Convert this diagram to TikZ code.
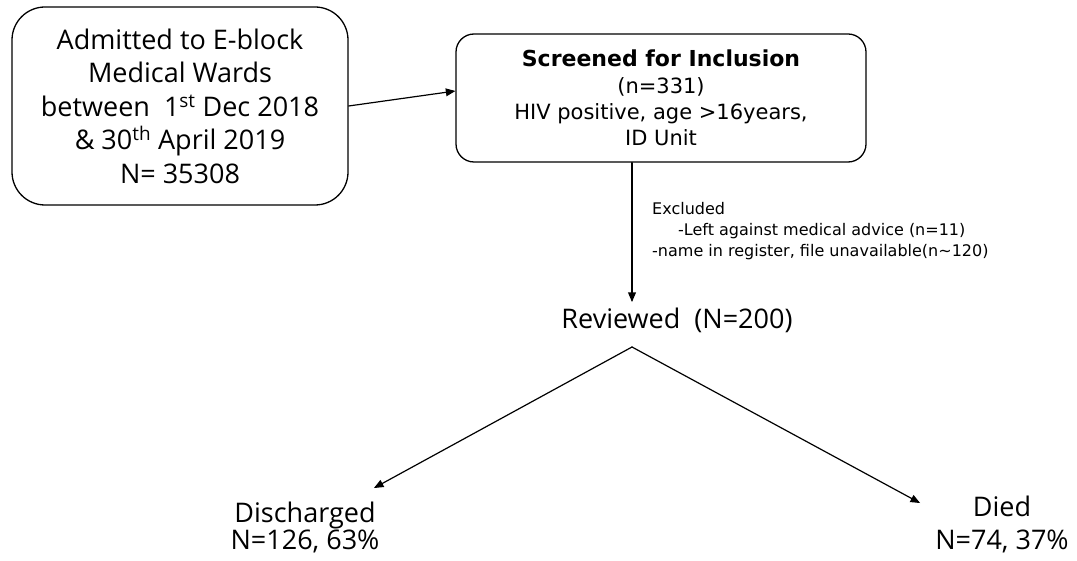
\documentclass[tikz,border=0pt]{standalone}
\usepackage{fontspec}
\setmainfont{Open Sans}
\newfontfamily\boxfont{DejaVu Sans}
\usetikzlibrary{arrows}

\tikzset{
  flowbox/.style={draw, line width=1.3pt, rounded corners=#1, align=center, inner sep=0pt},
  bigtext/.style={font=\fontsize{27}{33}\selectfont, align=center},
  smalltext/.style={font=\boxfont\fontsize{16}{21}\selectfont, align=left},
}

\begin{document}
\begin{tikzpicture}[line cap=round,line join=round,>=triangle 45,x=1pt,y=-1pt]
\useasboundingbox (0,0) rectangle (1077,561);
\node[flowbox=33pt, bigtext, font=\fontsize{27}{33.5}\selectfont, minimum width=336pt, minimum height=198pt] (admit) at (180,106)
  {Admitted to E-block\\ Medical Wards\\ between \ 1\textsuperscript{st} Dec 2018\\ \& 30\textsuperscript{th} April 2019\\ N= 35308};
\node[flowbox=18pt, minimum width=410pt, minimum height=128pt,
  font=\boxfont\fontsize{21}{26.3}\selectfont] (screen) at (661,98)
  {{\bfseries\fontsize{22}{26.3}\selectfont Screened for Inclusion}\\ (n=331)\\ HIV positive, age >16years,\\ ID Unit};
\node[bigtext] (reviewed) at (677,320) {Reviewed \ (N=200)};
\node[bigtext, font=\fontsize{27}{27}\selectfont] (discharged) at (305,527) {Discharged\\ N=126, 63\%};
\node[bigtext, font=\fontsize{27}{33}\selectfont] (died) at (1002,524) {Died\\ N=74, 37\%};
\node[smalltext, anchor=north west, inner sep=0pt] (excluded) at (652,202)
  {Excluded\\ \hspace*{26pt}-Left against medical advice (n=11)\\ -name in register, file unavailable(n\textasciitilde120)};

\coordinate (tip) at (632,302);
\coordinate (split) at (632,347);
\coordinate (distip) at (374,488);
\coordinate (diedtip) at (920,503);

\draw[->, line width=1.2pt] (admit.east) -- ([yshift=7pt]screen.west);
\draw[->, line width=1.2pt] (screen.south -| tip) -- (tip);
\draw[->, line width=1.2pt] (split) -- (distip);
\draw[->, line width=1.2pt] (split) -- (diedtip);
\end{tikzpicture}
\end{document}
